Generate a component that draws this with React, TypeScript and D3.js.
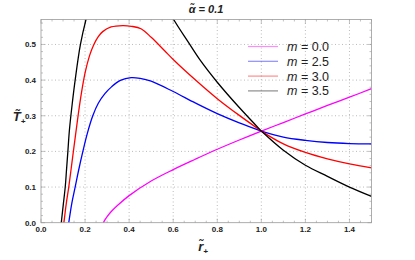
import React from "react";
import * as d3 from "d3";

const xTicks = [0, 0.2, 0.4, 0.6, 0.8, 1.0, 1.2, 1.4];
const yTicks = [0, 0.1, 0.2, 0.3, 0.4, 0.5];

const rM0 = [0.283, 0.29, 0.3, 0.32, 0.348, 0.4, 0.5, 0.6, 0.7, 0.8, 0.9, 1.0, 1.1, 1.2, 1.3, 1.4, 1.5];
const tM0 = [0.0, 0.008, 0.017, 0.032, 0.049, 0.076, 0.117, 0.149, 0.178, 0.206, 0.232, 0.257, 0.281, 0.305, 0.329, 0.352, 0.376];

const rM25 = [0.126, 0.14, 0.155, 0.17, 0.19, 0.21, 0.235, 0.26, 0.29, 0.32, 0.36, 0.409, 0.45, 0.5, 0.6, 0.7, 0.8, 0.9, 1.0, 1.1, 1.2, 1.3, 1.4, 1.5];
const tM25 = [0.0, 0.055, 0.1, 0.145, 0.2, 0.25, 0.3, 0.335, 0.362, 0.381, 0.399, 0.407, 0.405, 0.397, 0.368, 0.336, 0.306, 0.28, 0.257, 0.240, 0.231, 0.225, 0.222, 0.221];

const rM30 = [0.104, 0.115, 0.126, 0.137, 0.147, 0.164, 0.18, 0.2, 0.22, 0.24, 0.26, 0.28, 0.318, 0.371, 0.41, 0.454, 0.5, 0.56, 0.6, 0.7, 0.8, 0.9, 1.0, 1.1, 1.2, 1.3, 1.4, 1.5];
const tM30 = [0.0, 0.055, 0.1, 0.152, 0.2, 0.28, 0.35, 0.42, 0.468, 0.5, 0.522, 0.536, 0.549, 0.553, 0.551, 0.544, 0.52, 0.483, 0.458, 0.401, 0.348, 0.301, 0.257, 0.221, 0.197, 0.179, 0.165, 0.154];

const rM35 = [0.092, 0.101, 0.11, 0.116, 0.122, 0.129, 0.142, 0.155, 0.179, 0.205, 0.25, 0.3, 0.38, 0.45, 0.52, 0.6, 0.67, 0.72, 0.8, 0.9, 1.0, 1.1, 1.2, 1.3, 1.4, 1.5];
const tM35 = [0.0, 0.05, 0.1, 0.15, 0.2, 0.26, 0.335, 0.4, 0.5, 0.572, 0.67, 0.74, 0.77, 0.74, 0.665, 0.572, 0.505, 0.458, 0.394, 0.323, 0.257, 0.203, 0.161, 0.13, 0.1, 0.074];

const seriesLabels = ["0.0", "2.5", "3.0", "3.5"];
const seriesColors = ["#ff00ff", "#0000ff", "#ff0000", "#000000"];
const seriesR = [rM0, rM25, rM30, rM35];
const seriesT = [tM0, tM25, tM30, tM35];

export default function App() {
  const W = 415, H = 260;
  const L = 41, R = 371.5, T = 19.5, B = 222.7;
  const x = d3.scaleLinear().domain([0, 1.5]).range([L, R]);
  const y = d3.scaleLinear().domain([0, 0.57]).range([B, T]);
  const line = d3
    .line<[number, number]>()
    .x((d) => x(d[0]))
    .y((d) => y(d[1]))
    .curve(d3.curveCatmullRom.alpha(0.5));

  const xMinor = d3.range(0, 1.5001, 0.05);
  const yMinor = d3.range(0, 0.5701, 0.02);
  const tickColor = "#999";
  const font = "Liberation Sans, Arial, sans-serif";

  const segments = (rs: number[], ts: number[]) => {
    const pts = rs.map((r, j) => [r, ts[j]] as [number, number]);
    const left = pts.filter((p) => p[0] <= 1.0);
    const right = pts.filter((p) => p[0] >= 1.0);
    return [left, right];
  };

  return (
    <svg width={W} height={H} style={{ position: "absolute", left: 0, top: 0 }}>
      <defs>
        <clipPath id="plotclip">
          <rect x={L} y={T} width={R - L} height={B - T} />
        </clipPath>
      </defs>
      <rect x={0} y={0} width={W} height={H} fill="#fff" />
      {xTicks.slice(1).map((t) => (
        <line key={"gx" + t} x1={x(t)} x2={x(t)} y1={T} y2={B} stroke="#aaa" strokeWidth={0.8} strokeDasharray="1,2.5" />
      ))}
      {yTicks.slice(1).map((t) => (
        <line key={"gy" + t} x1={L} x2={R} y1={y(t)} y2={y(t)} stroke="#aaa" strokeWidth={0.8} strokeDasharray="1,2.5" />
      ))}
      {xMinor.map((t, i) => {
        const major = i % 4 === 0;
        const len = major ? 4 : 2;
        return (
          <g key={"xm" + i}>
            <line x1={x(t)} x2={x(t)} y1={B} y2={B - len} stroke={tickColor} strokeWidth={0.6} />
            <line x1={x(t)} x2={x(t)} y1={T} y2={T + len} stroke={tickColor} strokeWidth={0.6} />
          </g>
        );
      })}
      {yMinor.map((t, i) => {
        const major = i % 5 === 0;
        const len = major ? 4 : 2;
        return (
          <g key={"ym" + i}>
            <line x1={L} x2={L + len} y1={y(t)} y2={y(t)} stroke={tickColor} strokeWidth={0.6} />
            <line x1={R} x2={R - len} y1={y(t)} y2={y(t)} stroke={tickColor} strokeWidth={0.6} />
          </g>
        );
      })}
      <g clipPath="url(#plotclip)">
        {seriesR.map((rs, i) =>
          segments(rs, seriesT[i]).map((seg, k) => (
            <path
              key={"s" + i + "_" + k}
              d={line(seg) || ""}
              fill="none"
              stroke={seriesColors[i]}
              strokeWidth={1.3}
            />
          ))
        )}
      </g>
      <rect x={L} y={T} width={R - L} height={B - T} fill="none" stroke="#999" strokeWidth={0.8} />
      {xTicks.map((t) => (
        <text key={"xl" + t} x={x(t)} y={B + 9} fontSize={8} fontWeight="bold" fontFamily={font} textAnchor="middle" fill="#222">
          {t.toFixed(1)}
        </text>
      ))}
      {yTicks.map((t) => (
        <text key={"yl" + t} x={L - 5} y={y(t) + 3} fontSize={8} fontWeight="bold" fontFamily={font} textAnchor="end" fill="#222">
          {t.toFixed(1)}
        </text>
      ))}
      {seriesLabels.map((lab, i) => {
        const ly = 46.5 + i * 14.8;
        return (
          <g key={"lg" + i}>
            <line x1={248} x2={278} y1={ly} y2={ly} stroke={seriesColors[i]} strokeOpacity={0.45} strokeWidth={1.2} />
            <text x={287} y={ly + 4.5} fontSize={12.5} fontFamily={font} fill="#222">
              <tspan fontStyle="italic">m</tspan>
              {i === 0 ? " = " : "  = "}
              {lab}
            </text>
          </g>
        );
      })}
      <text x={206} y={13} fontSize={11} fontWeight="bold" fontStyle="italic" fontFamily={font} textAnchor="middle" fill="#222">
        {"\u03B1\u0303 = 0.1"}
      </text>
      <text x={19} y={121} fontSize={13} fontWeight="bold" fontStyle="italic" fontFamily={font} textAnchor="middle" fill="#222">
        {"T\u0303"}
        <tspan fontSize={8} dy={3}>+</tspan>
      </text>
      <text x={203} y={251} fontSize={13} fontWeight="bold" fontStyle="italic" fontFamily={font} textAnchor="middle" fill="#222">
        {"r\u0303"}
        <tspan fontSize={8} dy={3}>+</tspan>
      </text>
    </svg>
  );
}
